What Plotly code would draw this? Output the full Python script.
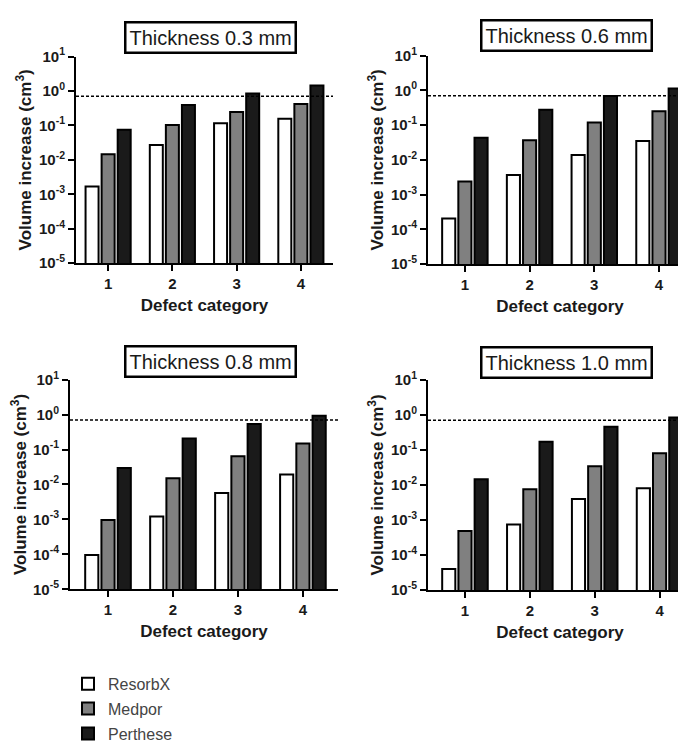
import plotly.graph_objects as go

# ---------------- data ----------------
categories = [1, 2, 3, 4]
category_labels = ["1", "2", "3", "4"]
series_names = ["ResorbX", "Medpor", "Perthese"]
panel_titles = ["Thickness 0.3 mm", "Thickness 0.6 mm", "Thickness 0.8 mm", "Thickness 1.0 mm"]

resorbx_03 = [1.7e-3, 0.027, 0.115, 0.155]
medpor_03 = [0.0145, 0.103, 0.244, 0.42]
perthese_03 = [0.075, 0.39, 0.84, 1.43]

resorbx_06 = [2.05e-4, 3.7e-3, 0.0139, 0.035]
medpor_06 = [2.4e-3, 0.0366, 0.119, 0.251]
perthese_06 = [0.0434, 0.274, 0.687, 1.12]

resorbx_08 = [9.6e-5, 1.21e-3, 5.7e-3, 0.0194]
medpor_08 = [9.6e-4, 0.015, 0.064, 0.15]
perthese_08 = [0.0297, 0.206, 0.54, 0.92]

resorbx_10 = [4.0e-5, 7.5e-4, 4.0e-3, 8.1e-3]
medpor_10 = [4.9e-4, 7.6e-3, 0.034, 0.080]
perthese_10 = [0.0146, 0.169, 0.458, 0.83]

threshold = 0.7
y_tick_values = [1e-5, 1e-4, 1e-3, 1e-2, 1e-1, 1e0, 1e1]
y_tick_labels = ["10<sup>-5</sup>", "10<sup>-4</sup>", "10<sup>-3</sup>", "10<sup>-2</sup>",
                 "10<sup>-1</sup>", "10<sup>0</sup>", "10<sup>1</sup>"]

panels = [
    [resorbx_03, medpor_03, perthese_03],
    [resorbx_06, medpor_06, perthese_06],
    [resorbx_08, medpor_08, perthese_08],
    [resorbx_10, medpor_10, perthese_10],
]

# ---------------- styling ----------------
W, H = 686, 743
FONT = "Liberation Sans, Arial, sans-serif"
fill_colors = ["#ffffff", "#808080", "#1a1a1a"]

# pixel geometry of each panel: (x0, x1, ytop, ybottom, xrange)
geom = [
    (68, 325, 50, 263, [0.5, 4.5]),
    (420, 684, 49, 264, [0.43, 4.51]),
    (62, 330, 383, 599, [0.415, 4.54]),
    (420, 684, 383, 600, [0.43, 4.5]),
]
title_pos = [(202, 30), (558, 28), (202, 364), (558, 365)]

fig = go.Figure()

for p, series in enumerate(panels):
    xa = "x" if p == 0 else f"x{p+1}"
    ya = "y" if p == 0 else f"y{p+1}"
    for s, vals in enumerate(series):
        fig.add_trace(go.Bar(
            x=categories, y=vals, name=series_names[s],
            xaxis=xa, yaxis=ya,
            marker=dict(color=fill_colors[s], line=dict(color="#000000", width=2)),
            showlegend=(p == 0), legendgroup=series_names[s],
        ))

layout = dict(
    width=W, height=H,
    margin=dict(l=0, r=0, t=0, b=0),
    paper_bgcolor="white", plot_bgcolor="white",
    barmode="group", bargap=0.25, bargroupgap=0.19,
    font=dict(family=FONT, color="#1a1a1a"),
    showlegend=True,
    legend=dict(x=60 / W, y=1 - 679 / H, xanchor="left", yanchor="top",
                font=dict(size=16, color="#444444", family=FONT),
                tracegroupgap=1, bgcolor="rgba(0,0,0,0)"),
    shapes=[], annotations=[],
)

for p, (x0, x1, yt, yb, xr) in enumerate(geom):
    xk = "xaxis" if p == 0 else f"xaxis{p+1}"
    yk = "yaxis" if p == 0 else f"yaxis{p+1}"
    ya = "y" if p == 0 else f"y{p+1}"
    xa = "x" if p == 0 else f"x{p+1}"
    layout[xk] = dict(
        domain=[x0 / W, x1 / W], anchor=ya, range=xr,
        tickmode="array", tickvals=categories, ticktext=category_labels,
        ticks="outside", ticklen=6, tickwidth=2, tickcolor="#000",
        showline=True, linecolor="#000", linewidth=2, showgrid=False, zeroline=False,
        tickfont=dict(size=15, weight="bold", color="#1a1a1a"),
        title=dict(text="Defect category", font=dict(size=17, weight="bold", color="#1a1a1a"),
                   standoff=8),
        automargin=False, fixedrange=True,
    )
    layout[yk] = dict(
        domain=[1 - yb / H, 1 - yt / H], anchor=xa, type="log", range=[-5, 1],
        tickmode="array", tickvals=y_tick_values, ticktext=y_tick_labels,
        ticks="outside", ticklen=6, tickwidth=2, tickcolor="#000",
        showline=True, linecolor="#000", linewidth=2, showgrid=False, zeroline=False,
        tickfont=dict(size=15, weight="bold", color="#1a1a1a"),
        title=dict(text="Volume increase (cm<sup>3</sup>)",
                   font=dict(size=17, weight="bold", color="#1a1a1a"), standoff=3),
        automargin=False, fixedrange=True,
    )
    layout["shapes"].append(dict(
        type="line", xref=f"{xa} domain", yref=ya, x0=0, x1=1, y0=threshold, y1=threshold,
        line=dict(color="#000", width=1.5, dash="3px,2px"),
    ))
    tx, ty = title_pos[p]
    layout["annotations"].append(dict(
        text=panel_titles[p], xref="paper", yref="paper", x=tx / W, y=1 - ty / H,
        xanchor="center", yanchor="middle", showarrow=False,
        font=dict(size=20, color="#1a1a1a", family=FONT),
        bordercolor="#000", borderwidth=2.5, borderpad=3, bgcolor="white",
    ))

fig.update_layout(**layout)
fig.write_html("out.html")
